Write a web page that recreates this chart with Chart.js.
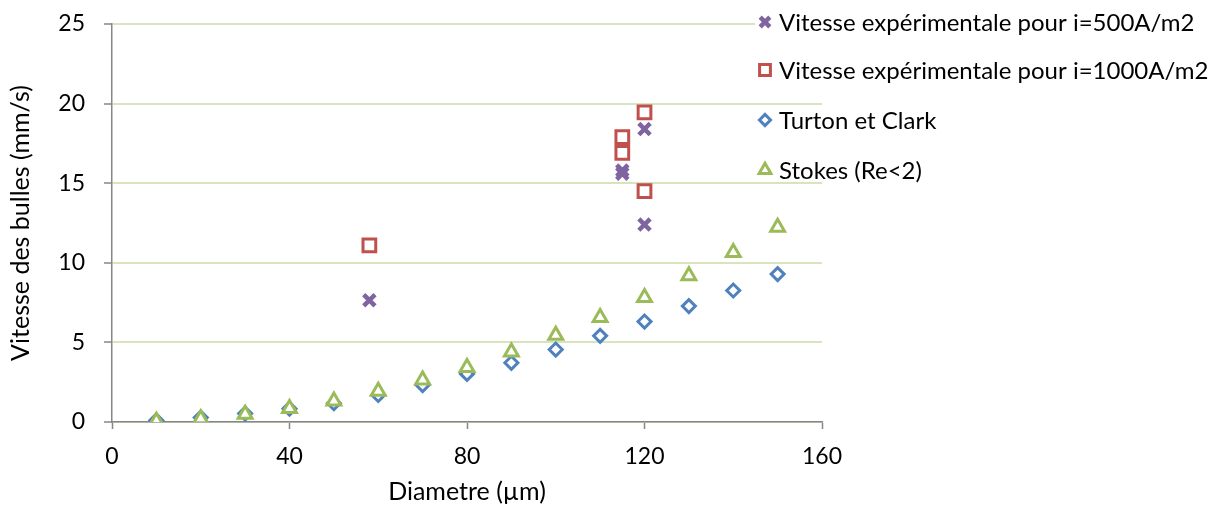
<!DOCTYPE html>
<html>
<head>
<meta charset="utf-8">
<script src="https://cdn.jsdelivr.net/npm/chart.js@4/dist/chart.umd.min.js"></script>
<style>
  html, body { margin: 0; padding: 0; background: #fff; }
  #wrap { width: 1226px; height: 509px; position: relative; }
</style>
</head>
<body>
<div id="wrap"><canvas id="chart" width="1226" height="509"></canvas></div>
<script>
'use strict';

// values
const xExp500 = [58, 115, 115, 120, 120];
const vitesse500 = [7.65, 15.8, 15.6, 18.4, 12.4];
const xExp1000 = [58, 115, 115, 120, 120];
const vitesse1000 = [11.1, 17.9, 16.9, 19.45, 14.5];
const diametres = [10, 20, 30, 40, 50, 60, 70, 80, 90, 100, 110, 120, 130, 140, 150];
const turtonClark = [0.1, 0.28, 0.53, 0.84, 1.18, 1.7, 2.32, 3.02, 3.72, 4.55, 5.41, 6.31, 7.28, 8.26, 9.29];
const stokes = [0.05, 0.2, 0.48, 0.85, 1.32, 1.93, 2.64, 3.42, 4.4, 5.45, 6.57, 7.82, 9.18, 10.65, 12.23];
const xTicks = [0, 40, 80, 120, 160];
const yTicks = [0, 5, 10, 15, 20, 25];
const seriesNames = [
  'Vitesse expérimentale pour i=500A/m2',
  'Vitesse expérimentale pour i=1000A/m2',
  'Turton et Clark',
  'Stokes (Re<2)'
];

const FONT = 'Lato, "Open Sans", sans-serif';

function pts(xs, ys) {
  return xs.map((x, i) => ({x: x, y: ys[i]}));
}

// legend drawn by hand because it sits partly over the plot
const sideLegend = {
  id: 'sideLegend',
  afterDraw: function(chart) {
    const ctx = chart.ctx;
    const rows = [22, 70, 120, 170];
    ctx.save();
    ctx.font = '24px ' + FONT;
    ctx.textBaseline = 'middle';
    chart.data.datasets.forEach(function(ds, i) {
      const y = rows[i];
      const w = ctx.measureText(ds.label).width;
      ctx.fillStyle = '#fff';
      ctx.fillRect(755, y - 12, w + 32, 24);
      ctx.fillStyle = '#fff';
      ctx.strokeStyle = ds.borderColor;
      ctx.lineWidth = ds.pointBorderWidth;
      Chart.helpers.drawPoint(ctx, {
        pointStyle: ds.pointStyle,
        radius: ds.pointRadius * 0.85,
        borderWidth: ds.pointBorderWidth,
        rotation: 0
      }, 765, y);
      ctx.fillStyle = '#000';
      ctx.fillText(ds.label, 779, y + 1);
    });
    ctx.restore();
  }
};

new Chart(document.getElementById('chart'), {
  type: 'scatter',
  data: {
    datasets: [
      {
        label: seriesNames[0],
        data: pts(xExp500, vitesse500),
        pointStyle: 'crossRot',
        pointRadius: 8,
        pointBorderWidth: 4.5,
        borderColor: '#8064A2',
        backgroundColor: '#8064A2',
        order: 3
      },
      {
        label: seriesNames[1],
        data: pts(xExp1000, vitesse1000),
        pointStyle: 'rect',
        pointRadius: 9,
        pointBorderWidth: 3,
        borderColor: '#C0504D',
        backgroundColor: '#fff',
        order: 2
      },
      {
        label: seriesNames[2],
        data: pts(diametres, turtonClark),
        pointStyle: 'rectRot',
        pointRadius: 6.5,
        pointBorderWidth: 3,
        borderColor: '#4F81BD',
        backgroundColor: '#fff',
        order: 1
      },
      {
        label: seriesNames[3],
        data: pts(diametres, stokes),
        pointStyle: 'triangle',
        pointRadius: 8,
        pointBorderWidth: 3,
        borderColor: '#9BBB59',
        backgroundColor: '#fff',
        order: 0
      }
    ]
  },
  options: {
    responsive: false,
    animation: false,
    layout: { autoPadding: false, padding: { top: 24, right: 404, left: 0, bottom: 0 } },
    plugins: {
      legend: { display: false },
      tooltip: { enabled: false }
    },
    scales: {
      x: {
        type: 'linear',
        min: 0,
        max: 160,
        afterBuildTicks: function(scale) {
          scale.ticks = xTicks.map(v => ({value: v}));
        },
        afterFit: function(scale) { scale.height = 87; },
        grid: {
          drawOnChartArea: false,
          drawTicks: true,
          tickLength: 7,
          tickColor: '#868686',
          tickWidth: 1.5
        },
        border: { color: '#868686', width: 1.5 },
        ticks: {
          color: '#000',
          font: { family: FONT, size: 23 },
          padding: 14,
          maxRotation: 0
        },
        title: {
          display: true,
          text: 'Diametre (µm)',
          color: '#000',
          font: { family: FONT, size: 25 },
          padding: { top: 0, bottom: 2 }
        }
      },
      y: {
        type: 'linear',
        min: 0,
        max: 25,
        afterBuildTicks: function(scale) {
          scale.ticks = yTicks.map(v => ({value: v}));
        },
        afterFit: function(scale) {
          scale.width = 112;
          // tick padding would otherwise push the plot top down
          scale.paddingTop = 0;
          scale.paddingBottom = 0;
        },
        grid: {
          color: '#D7E4BD',
          lineWidth: 2,
          drawTicks: true,
          tickLength: 8,
          tickColor: '#868686',
          tickWidth: 1.5
        },
        border: { color: '#868686', width: 1.5 },
        ticks: {
          color: '#000',
          font: { family: FONT, size: 23 },
          padding: 19
        },
        title: {
          display: true,
          text: 'Vitesse des bulles (mm/s)',
          color: '#000',
          font: { family: FONT, size: 25 },
          padding: { top: 6, bottom: 0 }
        }
      }
    }
  },
  plugins: [sideLegend]
});
</script>
</body>
</html>
